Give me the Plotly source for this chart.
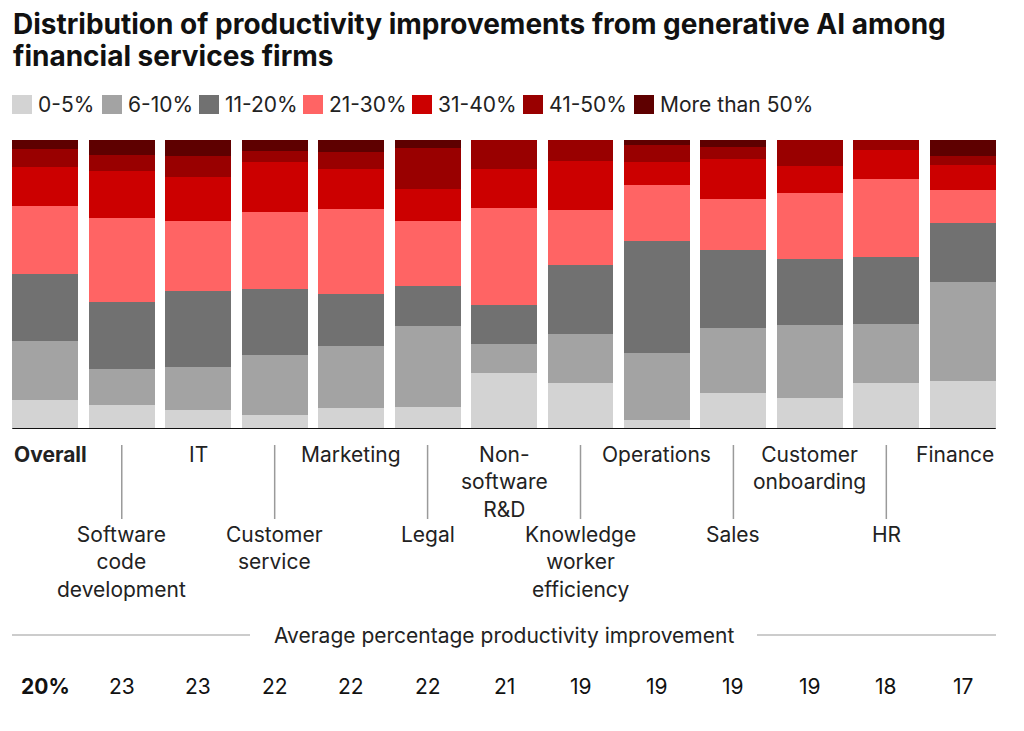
import plotly.graph_objects as go

# functions (x axis categories)
functions = ["Overall", "Software code development", "IT", "Customer service",
             "Marketing", "Legal", "Non-software R&D", "Knowledge worker efficiency",
             "Operations", "Sales", "Customer onboarding", "HR", "Finance"]
function_labels = ["<b>Overall</b>", "Software<br>code<br>development", "IT", "Customer<br>service",
                   "Marketing", "Legal", "Non-<br>software<br>R&D", "Knowledge<br>worker<br>efficiency",
                   "Operations", "Sales", "Customer<br>onboarding", "HR", "Finance"]

bands = ["0-5%", "6-10%", "11-20%", "21-30%", "31-40%", "41-50%", "More than 50%"]
band_colors = ["#d3d3d3", "#a3a3a3", "#717171", "#ff6464", "#cc0000", "#990000", "#5e0000"]

# share of firms (%) in each improvement band
p_0_5 = [9.9, 8.3, 6.7, 4.8, 7.2, 7.6, 19.5, 15.9, 3.1, 12.6, 10.6, 15.9, 16.5]
p_6_10 = [20.6, 12.6, 14.9, 20.9, 21.6, 27.9, 10.0, 16.9, 23.3, 22.3, 25.3, 20.3, 34.5]
p_11_20 = [23.3, 23.2, 26.0, 22.9, 17.8, 14.1, 13.3, 23.9, 38.5, 27.0, 22.8, 23.4, 20.2]
p_21_30 = [23.5, 28.8, 24.3, 26.6, 29.6, 22.3, 33.6, 19.2, 19.4, 17.8, 22.8, 26.9, 11.5]
p_31_40 = [13.3, 16.4, 15.2, 17.2, 13.9, 11.3, 13.5, 16.7, 8.0, 13.7, 9.4, 10.2, 8.8]
p_41_50 = [6.3, 5.4, 7.2, 3.7, 5.9, 13.9, 10.1, 7.4, 5.9, 4.3, 9.1, 3.3, 2.8]
p_50_plus = [3.1, 5.3, 5.7, 3.9, 4.0, 2.9, 0.0, 0.0, 1.8, 2.3, 0.0, 0.0, 5.7]
series = [p_0_5, p_6_10, p_11_20, p_21_30, p_31_40, p_41_50, p_50_plus]

# average percentage productivity improvement
averages = [20, 23, 23, 22, 22, 22, 21, 19, 19, 19, 19, 18, 17]

FONT = "Inter"
TXT = "#222222"
FS = 21
OFF = 8          # page body margin
W, H = 1008, 715
ml, mr, mt, mb = 0, 15, 132, 294
plot_w = W - ml - mr
plot_h = H - mt - mb
bargap = 0.137
x_lo, x_hi = -0.488, 12.5


def py(pix):
    # page pixel y -> paper y
    return (H - mb - (pix - OFF)) / plot_h


def px(pix):
    # page pixel x -> paper x
    return (pix - OFF - ml) / plot_w


fig = go.Figure()
for name, vals, col in zip(bands, series, band_colors):
    fig.add_trace(go.Bar(x=functions, y=vals, name=name, marker_color=col,
                         marker_line_width=0, showlegend=False))

half = (1 - bargap) / 2
last = len(functions) - 1
shapes = [dict(type="line", xref="x", yref="y", x0=-half, x1=last + half,
               y0=0, y1=0, line=dict(color="#111111", width=2))]
annotations = []

for i, (f, lab) in enumerate(zip(functions, function_labels)):
    if i % 2 == 0:
        a = dict(x=i, y=py(440), xref="x", yref="paper", text=lab, showarrow=False,
                 yanchor="top", xanchor="center", font=dict(size=FS, color=TXT, family=FONT))
        if i == 0:
            a.update(x=-half, xanchor="left")
        if i == last:
            a.update(x=last + half, xanchor="right")
        annotations.append(a)
    else:
        shapes.append(dict(type="line", xref="x", yref="paper", x0=i, x1=i,
                           y0=py(445), y1=py(519), line=dict(color="#9a9a9a", width=1.5)))
        annotations.append(dict(x=i, y=py(520), xref="x", yref="paper", text=lab,
                                showarrow=False, yanchor="top", xanchor="center",
                                font=dict(size=FS, color=TXT, family=FONT)))

# average row
shapes.append(dict(type="line", xref="paper", yref="paper", x0=px(12), x1=px(250),
                   y0=py(635), y1=py(635), line=dict(color="#9a9a9a", width=1.2)))
shapes.append(dict(type="line", xref="paper", yref="paper", x0=px(757), x1=px(996),
                   y0=py(635), y1=py(635), line=dict(color="#9a9a9a", width=1.2)))
annotations.append(dict(x=px(504), y=py(635), xref="paper", yref="paper",
                        text="Average percentage productivity improvement", showarrow=False,
                        xanchor="center", yanchor="middle", font=dict(size=FS, color=TXT, family=FONT)))
for i, v in enumerate(averages):
    t = f"<b>{v}%</b>" if i == 0 else str(v)
    annotations.append(dict(x=i, y=py(686), xref="x", yref="paper", text=t, showarrow=False,
                            xanchor="center", yanchor="middle",
                            font=dict(size=FS, color="#111111", family=FONT)))

# legend row (drawn by hand to get large swatches)
legend_x = [12, 102, 199, 303, 412, 523, 634]
for lx, name, col in zip(legend_x, bands, band_colors):
    shapes.append(dict(type="rect", xref="paper", yref="paper", x0=px(lx), x1=px(lx + 20),
                       y0=py(114), y1=py(95), fillcolor=col, line_width=0))
    annotations.append(dict(x=px(lx + 24), y=py(105), xref="paper", yref="paper", text=name,
                            showarrow=False, xanchor="left", yanchor="middle",
                            font=dict(size=FS, color=TXT, family=FONT)))

# title, two lines
title_lines = ["Distribution of productivity improvements from generative AI among",
               "financial services firms"]
for ty, line in zip([24, 56], title_lines):
    annotations.append(dict(x=px(11), y=py(ty), xref="paper", yref="paper", text=f"<b>{line}</b>",
                            showarrow=False, xanchor="left", yanchor="middle",
                            font=dict(size=28, color="#111111", family=FONT)))

fig.update_layout(
    width=W, height=H,
    barmode="stack", bargap=bargap,
    margin=dict(l=ml, r=mr, t=mt, b=mb),
    paper_bgcolor="white", plot_bgcolor="white",
    xaxis=dict(range=[x_lo, x_hi], showticklabels=False, showgrid=False, zeroline=False, showline=False),
    yaxis=dict(range=[0, 100], visible=False),
    shapes=shapes, annotations=annotations,
)

fig.write_html("out.html")
